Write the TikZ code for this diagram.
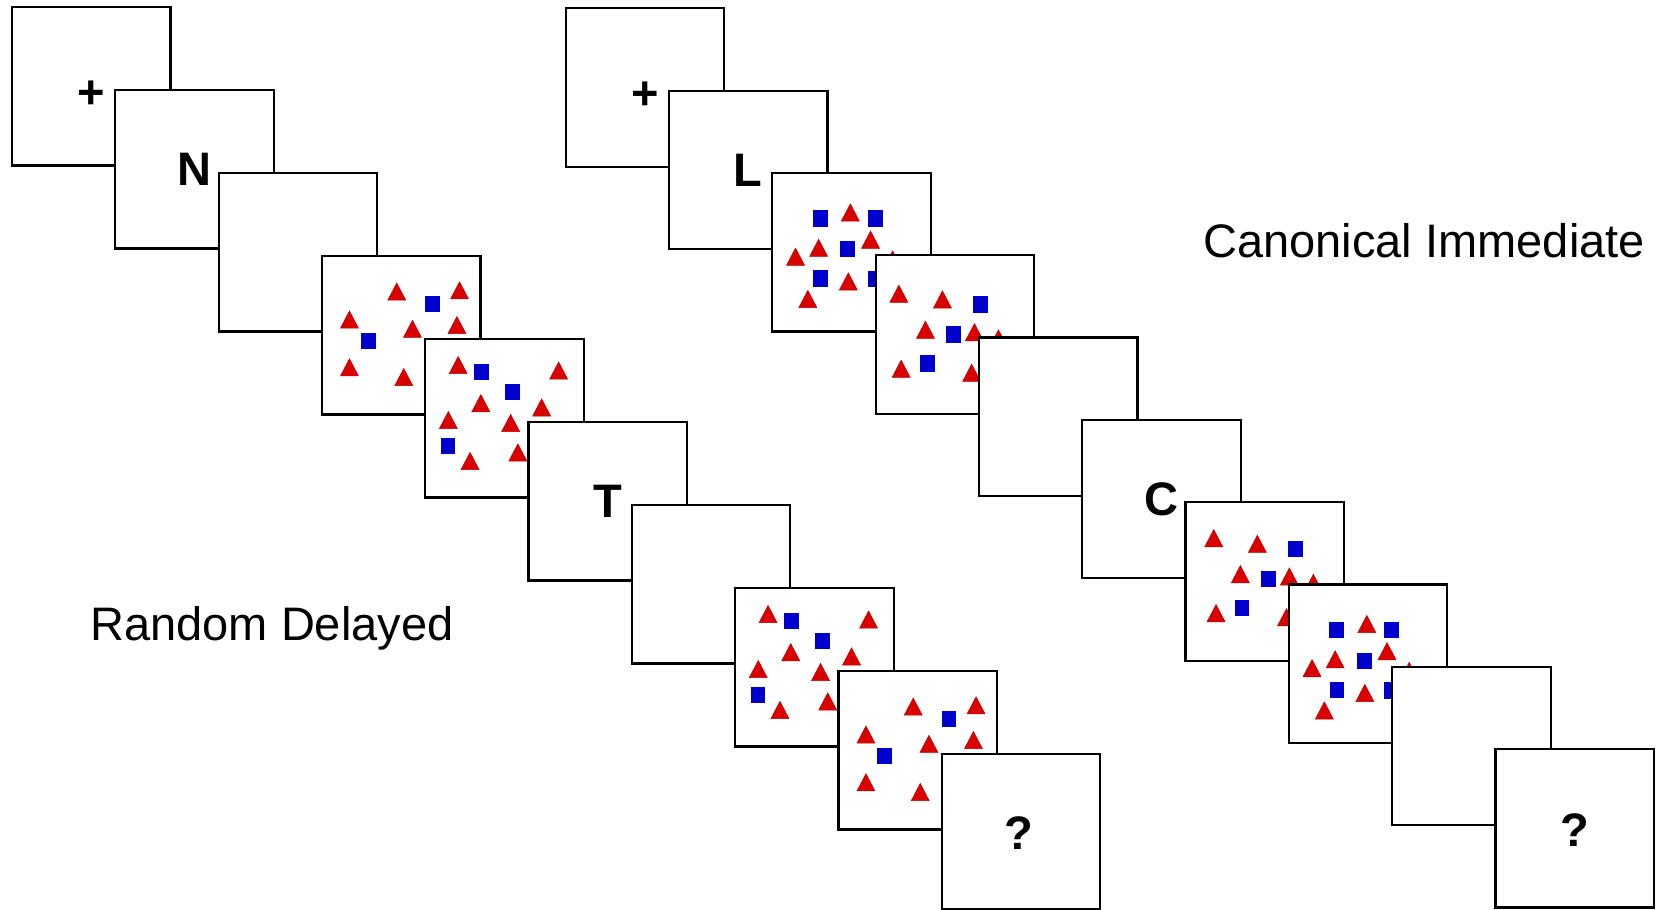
\documentclass[tikz,border=0pt]{standalone}
\usepackage{fontspec}
\setmainfont{Liberation Sans}
\definecolor{trired}{RGB}{218,0,0}
\definecolor{sqblue}{RGB}{0,0,204}

% stimulus layouts, coordinates from the top-left corner of a frame (px)
\newcommand\layoutA{%
  \pic at (74.8,35.5) {tri};  \pic at (137.6,34.3) {tri}; \pic at (110.5,47.8) {sq};
  \pic at (27.5,63.5) {tri};  \pic at (90.5,72.8) {tri};  \pic at (135,69) {tri};
  \pic at (46.4,85.2) {sq};   \pic at (27.5,111.3) {tri}; \pic at (81.8,121) {tri};}
\newcommand\layoutB{%
  \pic at (32.9,26) {tri};    \pic at (56.1,33.2) {sq};   \pic at (133.4,31.5) {tri};
  \pic at (87.4,53.1) {sq};   \pic at (55.6,64.1) {tri};  \pic at (116.4,68.4) {tri};
  \pic at (23.1,81) {tri};    \pic at (85.4,83.9) {tri};  \pic at (22.8,107) {sq};
  \pic at (44.8,121.9) {tri}; \pic at (92.6,113.4) {tri};}
\newcommand\layoutC{%
  \pic at (48,45.5) {sq};     \pic at (78,39.5) {tri};    \pic at (103,45.5) {sq};
  \pic at (46.3,74.9) {tri};  \pic at (75.3,76.3) {sq};   \pic at (98.2,66.7) {tri};
  \pic at (23.2,83.7) {tri};  \pic at (48.2,105.5) {sq};  \pic at (76,108.5) {tri};
  \pic at (103,106) {sq};     \pic at (35.5,126) {tri};   \pic at (120.3,86.5) {tri};}
\newcommand\layoutD{%
  \pic at (28.2,36) {tri};    \pic at (71.8,41.7) {tri};  \pic at (110.2,46.7) {sq};
  \pic at (54.8,72) {tri};    \pic at (82.8,76.7) {sq};   \pic at (103.8,74.4) {tri};
  \pic at (127.8,80.7) {tri}; \pic at (30.5,111) {tri};   \pic at (56.5,105.7) {sq};
  \pic at (101,115) {tri};}

\begin{document}
\begin{tikzpicture}[x=0.5pt,y=-0.5pt,
  stimframe/.style={draw=black, fill=white, line width=1.1pt,
    minimum width=79.25pt, minimum height=79.25pt, inner sep=0pt, outer sep=0pt},
  framesym/.style={font=\fontsize{23.5}{28}\selectfont\bfseries, inner sep=0pt},
  captiontext/.style={font=\fontsize{23.5}{28}\selectfont, inner sep=0pt, anchor=base west},
  tri/.pic={\filldraw[fill=trired, draw=trired!85!black, line width=0.25pt]
    (0,-8.6) -- (9,8.6) -- (-9,8.6) -- cycle;},
  sq/.pic={\fill[sqblue] (-7.4,-8.1) rectangle (7.4,8.1);}
]
\useasboundingbox (0,0) rectangle (1660,910);

% ---- Random Delayed sequence ----
\node[stimframe] (L1) at (91.3,86.3) {};
\node[framesym] (L1s) at (91.5,94.3) {+};
\node[stimframe] (L2) at (194.6,169.3) {};
\node[framesym] (L2s) at (L2.center) {N};
\node[stimframe] (L3) at (297.9,252.3) {};
\node[stimframe] (L4) at (401.2,335.3) {};
\begin{scope}[shift={(L4.north west)}]\layoutA\end{scope}
\node[stimframe] (L5) at (504.5,418.3) {};
\begin{scope}[shift={(L5.north west)}]\layoutB\end{scope}
\node[stimframe] (L6) at (607.8,501.3) {};
\node[framesym] (L6s) at (L6.center) {T};
\node[stimframe] (L7) at (711.1,584.3) {};
\node[stimframe] (L8) at (814.4,667.3) {};
\begin{scope}[shift={(L8.north west)}]\layoutB\end{scope}
\node[stimframe] (L9) at (917.7,750.3) {};
\begin{scope}[shift={(L9.north west)}]\layoutA\end{scope}
\node[stimframe, minimum height=77.5pt] (L10) at (1021,831.3) {};
\node[framesym] (L10s) at (1018.5,833) {?};

% ---- Canonical Immediate sequence ----
\node[stimframe] (R1) at (645,87.6) {};
\node[framesym] (R1s) at (645,96) {+};
\node[stimframe] (R2) at (748.3,169.9) {};
\node[framesym] (R2s) at (R2.center) {L};
\node[stimframe] (R3) at (851.6,252.2) {};
\begin{scope}[shift={(R3.north west)}]\layoutC\end{scope}
\node[stimframe] (R4) at (954.9,334.5) {};
\begin{scope}[shift={(R4.north west)}, xshift=-2.5pt, yshift=-1.25pt]\layoutD\end{scope}
\node[stimframe] (R5) at (1058.2,416.8) {};
\node[stimframe] (R6) at (1161.5,499.1) {};
\node[framesym] (R6s) at (R6.center) {C};
\node[stimframe] (R7) at (1264.8,581.4) {};
\begin{scope}[shift={(R7.north west)}]\layoutD\end{scope}
\node[stimframe] (R8) at (1368.1,663.7) {};
\begin{scope}[shift={(R8.north west)}]\layoutC\end{scope}
\node[stimframe] (R9) at (1471.4,746) {};
\node[stimframe] (R10) at (1574.7,828.3) {};
\node[framesym] (R10s) at (1575,830) {?};

% ---- condition names ----
\node[captiontext] (rd) at (90,640) {Random Delayed};
\node[captiontext] (ci) at (1203,257) {Canonical Immediate};
\end{tikzpicture}
\end{document}
